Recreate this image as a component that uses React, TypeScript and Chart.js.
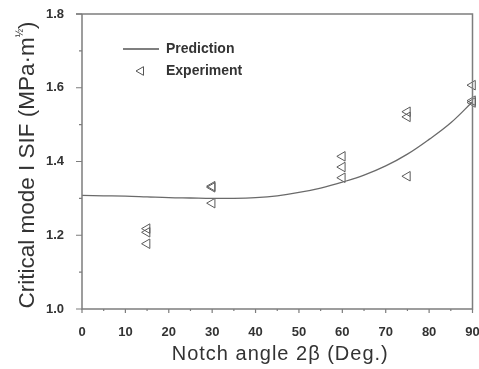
import React, { useEffect, useRef } from "react";
import { Chart, registerables } from "chart.js";

Chart.register(...registerables);

// Prediction curve (smooth model result)
const predAngles = [0, 5, 10, 15, 20, 25, 30, 35, 40, 45, 50, 55, 60, 65, 70, 75, 80, 85, 90];
const predSIF = [1.308, 1.307, 1.306, 1.304, 1.302, 1.301, 1.3, 1.3, 1.302, 1.307, 1.316, 1.328, 1.344, 1.363, 1.388, 1.42, 1.46, 1.505, 1.562];

// Measured critical SIF values
const expAngles = [15, 15, 15, 30, 30, 30, 60, 60, 60, 75, 75, 75, 90, 90, 90];
const expSIF = [1.218, 1.208, 1.177, 1.333, 1.33, 1.287, 1.414, 1.385, 1.356, 1.535, 1.521, 1.36, 1.607, 1.565, 1.56];

const xTicks = [0, 10, 20, 30, 40, 50, 60, 70, 80, 90];
const yTicks = [1.0, 1.2, 1.4, 1.6, 1.8];

const AXIS = "#7d7d7d";
const TEXT = "#333333";
const FONT = "'Liberation Sans', Arial, sans-serif";

const framePlugin = {
  id: "frameAndLabels",
  afterDraw(chart: any) {
    const { ctx, chartArea: a, scales } = chart;
    const xs = scales.x;
    const ys = scales.y;
    ctx.save();
    ctx.strokeStyle = AXIS;
    ctx.lineWidth = 1.5;
    // box frame
    ctx.beginPath();
    ctx.moveTo(a.left, a.top);
    ctx.lineTo(a.left, a.bottom);
    ctx.lineTo(a.right, a.bottom);
    ctx.lineTo(a.right, a.top);
    ctx.lineTo(a.left - 6, a.top);
    ctx.stroke();

    // x ticks (major outward, minor small)
    ctx.lineWidth = 1.2;
    ctx.beginPath();
    for (let v = 0; v <= 90; v += 5) {
      const px = xs.getPixelForValue(v);
      const len = v % 10 === 0 ? 4 : 2;
      ctx.moveTo(px, a.bottom);
      ctx.lineTo(px, a.bottom + len);
    }
    // y ticks
    for (let i = 0; i <= 8; i++) {
      const v = 1.0 + i * 0.1;
      const py = ys.getPixelForValue(v);
      const len = i % 2 === 0 ? 6 : 3;
      ctx.moveTo(a.left, py);
      ctx.lineTo(a.left - len, py);
    }
    ctx.stroke();

    // y axis title with superscript
    ctx.fillStyle = TEXT;
    ctx.textBaseline = "middle";
    const main = "Critical mode I SIF (MPa\u00b7m";
    const sup = "\u00bd";
    const close = ")";
    ctx.font = `22.5px ${FONT}`;
    const wMain = ctx.measureText(main).width;
    const wClose = ctx.measureText(close).width;
    ctx.font = `10px ${FONT}`;
    const wSup = ctx.measureText(sup).width;
    const total = wMain + wSup + wClose;
    ctx.translate(28, 165);
    ctx.rotate(-Math.PI / 2);
    let cx = -total / 2;
    ctx.textAlign = "left";
    ctx.font = `22.5px ${FONT}`;
    ctx.fillText(main, cx, 0);
    cx += wMain;
    ctx.font = `10px ${FONT}`;
    ctx.fillText(sup, cx, -8);
    cx += wSup;
    ctx.font = `22.5px ${FONT}`;
    ctx.fillText(close, cx, 0);
    ctx.restore();

    // x axis title
    ctx.save();
    ctx.fillStyle = TEXT;
    ctx.font = `20px ${FONT}`;
    (ctx as any).letterSpacing = "1px";
    ctx.textAlign = "center";
    ctx.textBaseline = "middle";
    ctx.fillText("Notch angle 2\u03b2 (Deg.)", (a.left + a.right) / 2 + 3, 354);
    ctx.restore();

    // legend
    ctx.save();
    const lx = a.left + 41;
    const ly1 = a.top + 35;
    const ly2 = a.top + 57;
    ctx.strokeStyle = "#555";
    ctx.lineWidth = 1.3;
    ctx.beginPath();
    ctx.moveTo(lx, ly1);
    ctx.lineTo(lx + 36, ly1);
    ctx.stroke();
    // left-pointing triangle marker
    const tx = lx + 18;
    const r = 5;
    ctx.lineWidth = 1;
    ctx.beginPath();
    ctx.moveTo(tx - r, ly2);
    ctx.lineTo(tx + r * 0.5, ly2 - r * 0.866);
    ctx.lineTo(tx + r * 0.5, ly2 + r * 0.866);
    ctx.closePath();
    ctx.stroke();
    ctx.fillStyle = TEXT;
    ctx.font = `bold 14px ${FONT}`;
    ctx.textAlign = "left";
    ctx.textBaseline = "middle";
    ctx.fillText("Prediction", lx + 43, ly1);
    ctx.fillText("Experiment", lx + 43, ly2);
    ctx.restore();
  },
};

export default function App() {
  const ref = useRef<HTMLCanvasElement>(null);

  useEffect(() => {
    if (!ref.current) return;
    const chart = new Chart(ref.current, {
      type: "scatter",
      data: {
        datasets: [
          {
            type: "line",
            label: "Prediction",
            data: predAngles.map((x, i) => ({ x, y: predSIF[i] })),
            borderColor: "#6a6a6a",
            borderWidth: 1.3,
            pointRadius: 0,
            tension: 0.4,
            fill: false,
          },
          {
            label: "Experiment",
            data: expAngles.map((x, i) => ({ x, y: expSIF[i] })),
            pointStyle: "triangle",
            rotation: -90,
            pointRadius: 5.5,
            borderColor: "#5a5a5a",
            borderWidth: 1,
            backgroundColor: "rgba(0,0,0,0)",
            clip: false,
          },
        ],
      },
      options: {
        responsive: false,
        animation: false,
        layout: { padding: { left: 0, right: 5, top: 14, bottom: 0 } },
        plugins: { legend: { display: false }, tooltip: { enabled: false } },
        scales: {
          x: {
            type: "linear",
            min: 0,
            max: 90,
            afterBuildTicks: (s: any) => {
              s.ticks = xTicks.map((v) => ({ value: v }));
            },
            afterFit: (s: any) => {
              s.height = 60;
              s.paddingLeft = 0;
              s.paddingRight = 0;
            },
            grid: { display: false },
            border: { display: false },
            ticks: {
              padding: 8,
              color: TEXT,
              font: { family: FONT, size: 13, weight: "bold" },
              maxRotation: 0,
              autoSkip: false,
              callback: (v: any) => String(v),
            },
          },
          y: {
            type: "linear",
            min: 1.0,
            max: 1.8,
            afterBuildTicks: (s: any) => {
              s.ticks = yTicks.map((v) => ({ value: v }));
            },
            afterFit: (s: any) => {
              s.width = 82;
              s.paddingTop = 0;
              s.paddingBottom = 0;
            },
            grid: { display: false },
            border: { display: false },
            ticks: {
              padding: 10,
              color: TEXT,
              font: { family: FONT, size: 13, weight: "bold" },
              autoSkip: false,
              callback: (v: any) => Number(v).toFixed(1),
            },
          },
        },
      },
      plugins: [framePlugin],
    });
    return () => chart.destroy();
  }, []);

  return (
    <div style={{ position: "fixed", left: 0, top: 0, width: 479, height: 369, background: "#fff" }}>
      <canvas ref={ref} width={479} height={369} />
    </div>
  );
}
